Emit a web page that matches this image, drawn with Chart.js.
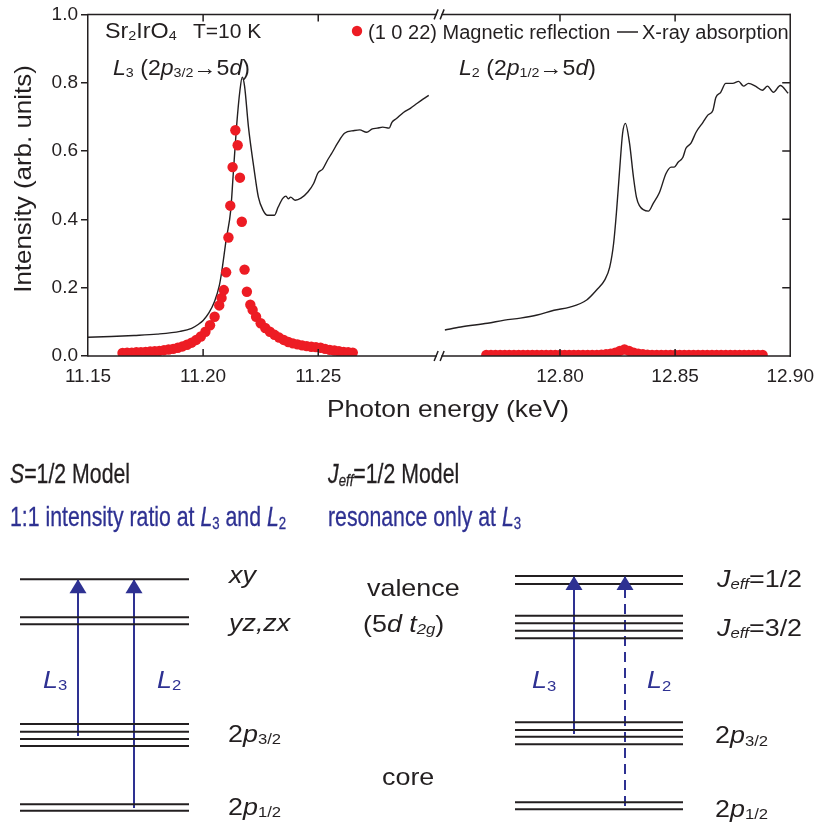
<!DOCTYPE html>
<html>
<head>
<meta charset="utf-8">
<script src="https://cdn.jsdelivr.net/npm/chart.js@4.4.0/dist/chart.umd.min.js"></script>
<style>
html, body { margin: 0; padding: 0; background: #fff; }
#wrap { position: relative; width: 823px; height: 825px; }
#top { position: absolute; left: 0; top: 0; width: 823px; height: 430px; }
#bottom { position: absolute; left: 0; top: 430px; width: 823px; height: 395px; }
</style>
</head>
<body>
<div id="wrap">
  <div id="top"><canvas id="spec"></canvas></div>
  <div id="bottom"><canvas id="levels"></canvas></div>
</div>
<script>
// ---- spectra (photon energy in keV, intensity in arb. units) ----
var xasL3Energy = [11.150, 11.160, 11.170, 11.180, 11.190, 11.195, 11.198, 11.200, 11.2025, 11.205,
  11.207, 11.208, 11.210, 11.212, 11.213, 11.2145, 11.216, 11.217, 11.218, 11.2197,
  11.222, 11.224, 11.226, 11.228, 11.231, 11.2326, 11.2347, 11.236, 11.237, 11.238,
  11.240, 11.2425, 11.2455, 11.248, 11.2498, 11.252, 11.254, 11.256, 11.2584, 11.2614,
  11.2657, 11.268, 11.271, 11.2735, 11.2756, 11.278, 11.2808, 11.282, 11.284, 11.287,
  11.290, 11.293, 11.2955, 11.298];
var xasL3Intensity = [0.055, 0.057, 0.060, 0.064, 0.072, 0.081, 0.093, 0.104, 0.126, 0.160,
  0.205, 0.243, 0.340, 0.427, 0.524, 0.670, 0.778, 0.816, 0.790, 0.670,
  0.553, 0.465, 0.427, 0.412, 0.412, 0.436, 0.462, 0.468, 0.460, 0.465,
  0.456, 0.462, 0.480, 0.505, 0.535, 0.548, 0.573, 0.595, 0.623, 0.652,
  0.660, 0.662, 0.655, 0.665, 0.667, 0.670, 0.667, 0.684, 0.695, 0.713,
  0.725, 0.740, 0.752, 0.763];

var xasL2Energy = [12.750, 12.7569, 12.7685, 12.7759, 12.7828, 12.7901, 12.7974, 12.8043, 12.8116, 12.8159,
  12.8194, 12.8216, 12.8233, 12.8246, 12.8259, 12.8272, 12.8284, 12.8302, 12.8319, 12.8332,
  12.8345, 12.8384, 12.8405, 12.8431, 12.8461, 12.8483, 12.8496, 12.8513, 12.8534, 12.8547,
  12.8569, 12.8591, 12.8621, 12.8642, 12.8664, 12.8677, 12.8698, 12.8720, 12.8750, 12.8776,
  12.8797, 12.8819, 12.8849, 12.8879, 12.8901, 12.8927, 12.8957, 12.8991];
var xasL2Intensity = [0.076, 0.085, 0.096, 0.105, 0.111, 0.120, 0.134, 0.143, 0.164, 0.193,
  0.222, 0.260, 0.330, 0.427, 0.544, 0.652, 0.681, 0.623, 0.524, 0.465,
  0.440, 0.424, 0.447, 0.477, 0.535, 0.553, 0.553, 0.567, 0.582, 0.608,
  0.623, 0.655, 0.684, 0.705, 0.719, 0.757, 0.772, 0.798, 0.798, 0.804,
  0.790, 0.798, 0.790, 0.778, 0.790, 0.772, 0.792, 0.769];

var magL3Energy = [11.165, 11.167, 11.169, 11.171, 11.173, 11.175, 11.177, 11.179, 11.181, 11.183,
  11.185, 11.187, 11.189, 11.191, 11.193, 11.195, 11.197, 11.199, 11.201, 11.203,
  11.205, 11.207, 11.208,
  11.209, 11.210, 11.211, 11.2118, 11.2128, 11.214, 11.215, 11.216, 11.2168, 11.218, 11.219,
  11.2205, 11.2215, 11.223, 11.225, 11.227, 11.229, 11.231, 11.233, 11.235, 11.237,
  11.239, 11.241, 11.243, 11.245, 11.247, 11.249, 11.251, 11.253, 11.255, 11.257,
  11.259, 11.261, 11.263, 11.265];
var magL3Intensity = [0.009, 0.010, 0.010, 0.011, 0.011, 0.012, 0.013, 0.014, 0.015, 0.017,
  0.019, 0.021, 0.024, 0.028, 0.033, 0.039, 0.047, 0.057, 0.071, 0.090,
  0.115, 0.148, 0.170,
  0.193, 0.245, 0.347, 0.440, 0.553, 0.661, 0.617, 0.522, 0.393, 0.253, 0.188,
  0.150, 0.135, 0.115, 0.096, 0.082, 0.071, 0.062, 0.054, 0.047, 0.041,
  0.037, 0.034, 0.031, 0.029, 0.027, 0.026, 0.024, 0.021, 0.018, 0.016,
  0.014, 0.012, 0.011, 0.010];

var magL2Energy = [12.768, 12.770, 12.772, 12.774, 12.776, 12.778, 12.780, 12.782, 12.784, 12.786,
  12.788, 12.790, 12.792, 12.794, 12.796, 12.798, 12.800, 12.802, 12.804, 12.806,
  12.808, 12.810, 12.812, 12.814, 12.816, 12.818, 12.820, 12.822, 12.824, 12.826,
  12.828, 12.830, 12.832, 12.834, 12.836, 12.838, 12.840, 12.842, 12.844, 12.846,
  12.848, 12.850, 12.852, 12.854, 12.856, 12.858, 12.860, 12.862, 12.864, 12.866,
  12.868, 12.870, 12.872, 12.874, 12.876, 12.878, 12.880, 12.882, 12.884, 12.886,
  12.888];
var magL2Intensity = [0.003, 0.003, 0.003, 0.003, 0.003, 0.003, 0.003, 0.003, 0.003, 0.003,
  0.003, 0.003, 0.003, 0.003, 0.003, 0.003, 0.003, 0.003, 0.003, 0.003,
  0.003, 0.003, 0.003, 0.003, 0.003, 0.004, 0.005, 0.007, 0.010, 0.015,
  0.019, 0.015, 0.010, 0.007, 0.005, 0.004, 0.003, 0.003, 0.003, 0.003,
  0.003, 0.003, 0.003, 0.003, 0.003, 0.003, 0.003, 0.003, 0.003, 0.003,
  0.003, 0.003, 0.003, 0.003, 0.003, 0.003, 0.003, 0.003, 0.003, 0.003,
  0.003];

var xTickEnergy = [11.15, 11.20, 11.25, 12.80, 12.85, 12.90];
var xTickLabels = ['11.15', '11.20', '11.25', '12.80', '12.85', '12.90'];
var xInnerTicks = [11.20, 11.25, 12.80, 12.85];
var yTickValues = [0, 0.2, 0.4, 0.6, 0.8, 1.0];
var yTickLabels = ['0.0', '0.2', '0.4', '0.6', '0.8', '1.0'];
var yInnerTicks = [0.2, 0.4, 0.6, 0.8];

// ---- level scheme (schematic energies, arbitrary units) ----
var sLevels = [245.7, 207.7, 200.7, 101, 93.3, 86, 79, 20.7, 14.3];
var jLevels = [249, 241, 209.3, 201.7, 194.3, 186.7, 102.7, 95, 88.3, 80.7, 22.7, 15.7];
var sLevelSpan = [20, 189];
var jLevelSpan = [515, 683];
var arrowX = [78, 134, 574, 625];
var arrowFrom = [89, 17, 91, 19];
var arrowTo = [245.7, 245.7, 249, 249];
var arrowDashed = [false, false, false, true];

var INK = '#231f20', RED = '#ed1c24', BLUE = '#2e3192';
var FONT = '"Liberation Sans", Arial, Helvetica, sans-serif';

// broken energy axis: 11.15-11.30 then 12.75-12.90
var LOW_START = 11.15, LOW_END = 11.30, HIGH_START = 12.75, GAP = 0.005;
function axisPos(e) {
  return e <= LOW_END ? e - LOW_START : e - HIGH_START + (LOW_END - LOW_START) + GAP;
}
function pairs(es, vs) {
  return es.map(function (e, i) { return { x: axisPos(e), y: vs[i] }; });
}

function runFont(size, f) {
  var s = f.indexOf('s') >= 0 ? size * 0.62 : size;
  return (f.indexOf('i') >= 0 ? 'italic ' : '') + s.toFixed(1) + 'px ' + FONT;
}
// runs: [[text, flags]] flags: i = italic, s = small/subscript
function drawRich(ctx, runs, x, y, o) {
  var size = o.size, sx = o.sx || 1;
  ctx.save();
  ctx.translate(x, y);
  if (o.rot) ctx.rotate(o.rot);
  ctx.scale(sx, 1);
  ctx.fillStyle = o.color || INK;
  ctx.strokeStyle = o.color || INK;
  ctx.lineWidth = o.weight || 0;
  ctx.textBaseline = 'alphabetic';
  ctx.textAlign = 'left';
  var w = 0;
  runs.forEach(function (r) { ctx.font = runFont(size, r[1]); w += ctx.measureText(r[0]).width; });
  var cx = o.align === 'center' ? -w / 2 : (o.align === 'right' ? -w : 0);
  runs.forEach(function (r) {
    var dy = r[1].indexOf('s') >= 0 ? size * 0.1 : 0;
    ctx.font = runFont(size, r[1]);
    ctx.fillText(r[0], cx, dy);
    if (o.weight) ctx.strokeText(r[0], cx, dy);
    cx += ctx.measureText(r[0]).width;
  });
  ctx.restore();
}

var framePlugin = {
  id: 'frame',
  afterDraw: function (chart) {
    var ctx = chart.ctx, ca = chart.chartArea, xs = chart.scales.x, ys = chart.scales.y;
    var mid = (xs.getPixelForValue(axisPos(LOW_END)) + xs.getPixelForValue(axisPos(HIGH_START))) / 2;
    ctx.save();
    ctx.strokeStyle = INK;
    ctx.lineWidth = 1.5;
    ctx.lineCap = 'square';
    [ca.top, ca.bottom].forEach(function (y) {
      ctx.beginPath();
      ctx.moveTo(ca.left, y); ctx.lineTo(mid - 3, y);
      ctx.moveTo(mid + 3, y); ctx.lineTo(ca.right, y);
      ctx.stroke();
      ctx.beginPath();
      ctx.lineCap = 'butt';
      ctx.moveTo(mid - 5, y + 5); ctx.lineTo(mid - 1, y - 5);
      ctx.moveTo(mid + 1, y + 5); ctx.lineTo(mid + 5, y - 5);
      ctx.stroke();
      ctx.lineCap = 'square';
    });
    ctx.beginPath();
    ctx.moveTo(ca.right, ca.top); ctx.lineTo(ca.right, ca.bottom);
    ctx.stroke();
    ctx.lineCap = 'butt';
    ctx.beginPath();
    xInnerTicks.forEach(function (e) {
      var px = xs.getPixelForValue(axisPos(e));
      ctx.moveTo(px, ca.bottom); ctx.lineTo(px, ca.bottom - 7);
      ctx.moveTo(px, ca.top); ctx.lineTo(px, ca.top + 7);
    });
    yInnerTicks.forEach(function (v) {
      var py = ys.getPixelForValue(v);
      ctx.moveTo(ca.right, py); ctx.lineTo(ca.right - 8, py);
    });
    ctx.stroke();
    ctx.restore();
  }
};

var notesPlugin = {
  id: 'notes',
  afterDraw: function (chart) {
    var ctx = chart.ctx;
    drawRich(ctx, [['Sr', ''], ['2', 's'], ['IrO', ''], ['4', 's']], 105, 38, { size: 22, sx: 1.06 });
    drawRich(ctx, [['T=10 K', '']], 193, 38, { size: 21 });
    drawRich(ctx, [['L', 'i'], ['3', 's'], [' (2', ''], ['p', 'i'], ['3/2', 's'], ['\u2192', ''], ['5', ''], ['d', 'i'], [')', '']],
      113, 75, { size: 22, sx: 1.05 });
    drawRich(ctx, [['L', 'i'], ['2', 's'], [' (2', ''], ['p', 'i'], ['1/2', 's'], ['\u2192', ''], ['5', ''], ['d', 'i'], [')', '']],
      459, 75, { size: 22, sx: 1.05 });
    // legend
    ctx.save();
    ctx.fillStyle = RED;
    ctx.beginPath(); ctx.arc(357, 31, 5.2, 0, Math.PI * 2); ctx.fill();
    ctx.strokeStyle = INK; ctx.lineWidth = 1.5;
    ctx.beginPath(); ctx.moveTo(617, 32); ctx.lineTo(638, 32); ctx.stroke();
    ctx.restore();
    drawRich(ctx, [['(1 0 22) Magnetic reflection', '']], 368, 39, { size: 20 });
    drawRich(ctx, [['X-ray absorption', '']], 642, 39, { size: 20 });
    // axis titles
    drawRich(ctx, [['Photon energy (keV)', '']], 448, 417, { size: 24, sx: 1.1, align: 'center' });
    drawRich(ctx, [['Intensity (arb. units)', '']], 31, 179, { size: 24, sx: 1.08, align: 'center', rot: -Math.PI / 2 });
  }
};

new Chart(document.getElementById('spec'), {
  type: 'scatter',
  data: {
    datasets: [
      { label: '(1 0 22) Magnetic reflection', data: pairs(magL3Energy, magL3Intensity), showLine: false,
        pointRadius: 5.2, pointBackgroundColor: RED, pointBorderWidth: 0, order: 0 },
      { label: '(1 0 22) Magnetic reflection L2', data: pairs(magL2Energy, magL2Intensity), showLine: false,
        pointRadius: 5.2, pointBackgroundColor: RED, pointBorderWidth: 0, order: 0 },
      { label: 'X-ray absorption', data: pairs(xasL3Energy, xasL3Intensity), showLine: true,
        borderColor: INK, borderWidth: 1.4, pointRadius: 0, cubicInterpolationMode: 'monotone', order: 1 },
      { label: 'X-ray absorption L2', data: pairs(xasL2Energy, xasL2Intensity), showLine: true,
        borderColor: INK, borderWidth: 1.4, pointRadius: 0, cubicInterpolationMode: 'monotone', order: 1 }
    ]
  },
  options: {
    responsive: true,
    maintainAspectRatio: false,
    animation: false,
    events: [],
    layout: { padding: { left: 0, right: 28, top: 14, bottom: 0 } },
    plugins: { legend: { display: false }, tooltip: { enabled: false } },
    scales: {
      x: {
        type: 'linear', min: 0, max: axisPos(12.90),
        grid: { display: false, drawTicks: false },
        border: { display: false },
        afterBuildTicks: function (s) { s.ticks = xTickEnergy.map(function (e) { return { value: axisPos(e) }; }); },
        afterFit: function (s) { s.height = 74; },
        ticks: { autoSkip: false, maxRotation: 0, padding: 9, color: INK, font: { family: FONT, size: 19 },
          callback: function (v, i) { return xTickLabels[i]; } }
      },
      y: {
        type: 'linear', min: 0, max: 1,
        afterBuildTicks: function (s) { s.ticks = yTickValues.map(function (v) { return { value: v }; }); },
        afterFit: function (s) { s.width = 88; },
        grid: { drawOnChartArea: false, drawTicks: true, tickLength: 7, color: INK, lineWidth: 1.5 },
        border: { display: true, color: INK, width: 1.5 },
        ticks: { padding: 3, color: INK, font: { family: FONT, size: 19 },
          callback: function (v, i) { return yTickLabels[i]; } }
      }
    }
  },
  plugins: [framePlugin, notesPlugin]
});

// ---- level diagrams ----
var levelDatasets = [];
sLevels.forEach(function (lv) {
  levelDatasets.push({ data: [{ x: sLevelSpan[0], y: lv }, { x: sLevelSpan[1], y: lv }],
    showLine: true, borderColor: INK, borderWidth: 2, pointRadius: 0 });
});
jLevels.forEach(function (lv) {
  levelDatasets.push({ data: [{ x: jLevelSpan[0], y: lv }, { x: jLevelSpan[1], y: lv }],
    showLine: true, borderColor: INK, borderWidth: 2, pointRadius: 0 });
});
arrowX.forEach(function (ax, i) {
  levelDatasets.push({ data: [{ x: ax, y: arrowFrom[i] }, { x: ax, y: arrowTo[i] }],
    showLine: true, borderColor: BLUE, borderWidth: 2, pointRadius: 0,
    borderDash: arrowDashed[i] ? [10, 6] : [] });
});

var diagramPlugin = {
  id: 'diagram',
  afterDraw: function (chart) {
    var ctx = chart.ctx, xs = chart.scales.x, ys = chart.scales.y;
    ctx.save();
    ctx.fillStyle = BLUE;
    arrowX.forEach(function (ax, i) {
      var px = xs.getPixelForValue(ax), py = ys.getPixelForValue(arrowTo[i]);
      ctx.beginPath();
      ctx.moveTo(px, py); ctx.lineTo(px - 8.5, py + 14); ctx.lineTo(px + 8.5, py + 14);
      ctx.closePath(); ctx.fill();
    });
    ctx.restore();
    function T(runs, x, y, o) { drawRich(ctx, runs, xs.getPixelForValue(x), ys.getPixelForValue(y), o); }
    var head = { size: 28, sx: 0.76, weight: 0.3 };
    var headBlue = { size: 28, sx: 0.76, weight: 0.3, color: BLUE };
    var lab = { size: 24, sx: 1.12 };
    var labBlue = { size: 24, sx: 1.12, color: BLUE };
    T([['S', 'i'], ['=1/2 Model', '']], 10, 342, head);
    T([['1:1 intensity ratio at ', ''], ['L', 'i'], ['3', 's'], [' and ', ''], ['L', 'i'], ['2', 's']], 10, 299, headBlue);
    T([['J', 'i'], ['eff', 'is'], ['=1/2 Model', '']], 328, 342, head);
    T([['resonance only at ', ''], ['L', 'i'], ['3', 's']], 328, 299, headBlue);

    T([['xy', 'i']], 229, 241.7, lab);
    T([['yz,zx', 'i']], 229, 194, lab);
    T([['2', ''], ['p', 'i'], ['3/2', 's']], 228, 83.3, lab);
    T([['2', ''], ['p', 'i'], ['1/2', 's']], 228, 10, lab);
    T([['valence', '']], 367, 229.3, lab);
    T([['(5', ''], ['d', 'i'], [' ', ''], ['t', 'i'], ['2g', 'is'], [')', '']], 363, 193.3, lab);
    T([['core', '']], 382, 40, lab);
    T([['L', 'i'], ['3', 's']], 43, 137, labBlue);
    T([['L', 'i'], ['2', 's']], 157, 137, labBlue);

    T([['J', 'i'], ['eff', 'is'], ['=1/2', '']], 717, 238.3, lab);
    T([['J', 'i'], ['eff', 'is'], ['=3/2', '']], 717, 189, lab);
    T([['2', ''], ['p', 'i'], ['3/2', 's']], 715, 81.7, lab);
    T([['2', ''], ['p', 'i'], ['1/2', 's']], 715, 8, lab);
    T([['L', 'i'], ['3', 's']], 532, 136.7, labBlue);
    T([['L', 'i'], ['2', 's']], 647, 136.7, labBlue);
  }
};

new Chart(document.getElementById('levels'), {
  type: 'scatter',
  data: { datasets: levelDatasets },
  options: {
    responsive: true,
    maintainAspectRatio: false,
    animation: false,
    events: [],
    layout: { padding: 0 },
    plugins: { legend: { display: false }, tooltip: { enabled: false } },
    scales: {
      x: { type: 'linear', min: 0, max: 823, display: false },
      y: { type: 'linear', min: 0, max: 395, display: false }
    }
  },
  plugins: [diagramPlugin]
});
</script>
</body>
</html>
